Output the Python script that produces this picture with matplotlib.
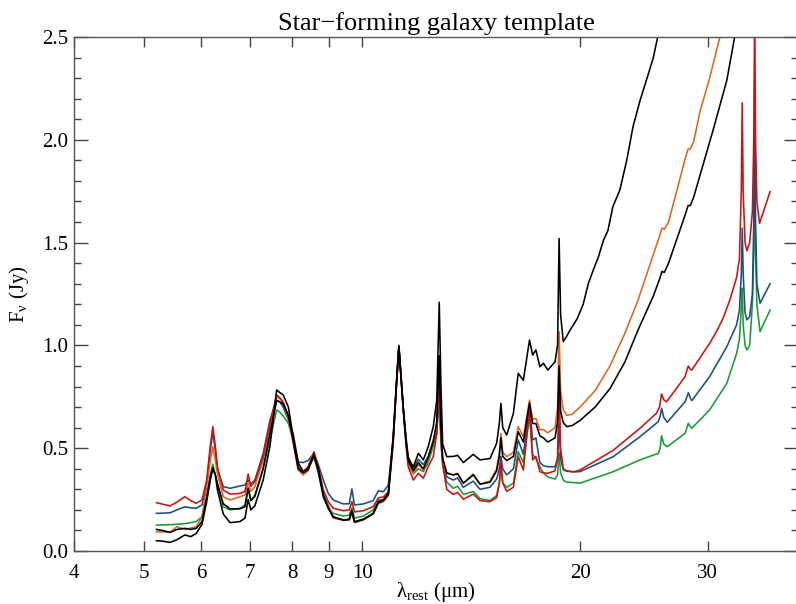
import numpy as np
import matplotlib
matplotlib.use("Agg")
import matplotlib.pyplot as plt
from matplotlib.ticker import FixedLocator, MultipleLocator, NullLocator

plt.rcParams['font.family'] = ['Liberation Serif', 'DejaVu Serif']
plt.rcParams['mathtext.default'] = 'regular'

# Common wavelength grid (micron) covering the PAH / fine-structure region
wave_pah = [5.20, 5.30, 5.43, 5.55, 5.69, 5.80, 5.90, 6.01, 6.10, 6.17,
            6.22, 6.27, 6.31, 6.43, 6.57, 6.78, 6.89, 6.96, 7.02, 7.11,
            7.30, 7.46, 7.62, 7.70, 7.78, 7.91, 8.03, 8.16, 8.29, 8.42,
            8.58, 8.70, 8.84, 8.98, 9.12, 9.42, 9.60, 9.68, 9.76, 10.04,
            10.36, 10.53, 10.70, 10.87, 11.04, 11.15, 11.24, 11.32, 11.40, 11.50,
            11.58, 11.77, 11.96, 12.15, 12.34, 12.54, 12.68, 12.78, 12.85, 12.92,
            13.09, 13.36, 13.55, 13.80, 14.24, 14.55, 15.02, 15.34, 15.47, 15.55,
            15.64, 15.84, 16.18, 16.43, 16.70, 17.03, 17.20, 17.38, 17.60, 17.80,
            18.05, 18.47, 18.62, 18.71, 18.80, 18.96, 19.17]

flux_red_pah = [0.235, 0.228, 0.219, 0.238, 0.264, 0.245, 0.232, 0.248, 0.345, 0.51,
                0.605, 0.51, 0.41, 0.297, 0.277, 0.28, 0.29, 0.375, 0.315, 0.337,
                0.459, 0.621, 0.759, 0.745, 0.726, 0.653, 0.54, 0.41, 0.386, 0.41,
                0.483, 0.41, 0.297, 0.24, 0.208, 0.196, 0.20, 0.24, 0.19, 0.196,
                0.216, 0.258, 0.263, 0.288, 0.54, 0.80, 0.995, 0.84, 0.69, 0.52,
                0.41, 0.345, 0.378, 0.354, 0.41, 0.459, 0.572, 0.85, 0.55, 0.42,
                0.30, 0.275, 0.285, 0.252, 0.277, 0.245, 0.24, 0.26, 0.33, 0.44,
                0.33, 0.29, 0.31, 0.459, 0.394, 0.686, 0.443, 0.46, 0.386, 0.38,
                0.378, 0.39, 0.45, 0.85, 0.50, 0.40, 0.39]

flux_blue_pah = [0.183, 0.184, 0.186, 0.20, 0.215, 0.21, 0.208, 0.224, 0.33, 0.49,
                 0.578, 0.49, 0.40, 0.313, 0.305, 0.316, 0.321, 0.345, 0.325, 0.345,
                 0.475, 0.637, 0.734, 0.725, 0.70, 0.637, 0.572, 0.434, 0.43, 0.44,
                 0.475, 0.42, 0.345, 0.28, 0.248, 0.229, 0.23, 0.302, 0.224, 0.229,
                 0.245, 0.293, 0.288, 0.321, 0.55, 0.80, 0.995, 0.84, 0.69, 0.55,
                 0.459, 0.40, 0.446, 0.42, 0.46, 0.54, 0.59, 0.80, 0.55, 0.45,
                 0.361, 0.345, 0.355, 0.31, 0.34, 0.30, 0.31, 0.35, 0.40, 0.46,
                 0.40, 0.37, 0.40, 0.54, 0.47, 0.70, 0.54, 0.55, 0.43, 0.415,
                 0.41, 0.41, 0.45, 0.62, 0.45, 0.395, 0.388]

flux_green_pah = [0.126, 0.127, 0.128, 0.13, 0.133, 0.138, 0.143, 0.167, 0.264, 0.37,
                  0.423, 0.37, 0.33, 0.215, 0.20, 0.208, 0.224, 0.305, 0.248, 0.272,
                  0.402, 0.54, 0.686, 0.675, 0.657, 0.62, 0.54, 0.402, 0.386, 0.40,
                  0.455, 0.38, 0.26, 0.208, 0.183, 0.17, 0.175, 0.21, 0.16, 0.17,
                  0.20, 0.248, 0.25, 0.28, 0.54, 0.80, 0.99, 0.84, 0.69, 0.52,
                  0.43, 0.375, 0.40, 0.386, 0.43, 0.51, 0.57, 0.76, 0.52, 0.42,
                  0.335, 0.305, 0.315, 0.275, 0.29, 0.255, 0.245, 0.27, 0.33, 0.40,
                  0.33, 0.31, 0.33, 0.483, 0.43, 0.66, 0.47, 0.45, 0.41, 0.38,
                  0.36, 0.35, 0.37, 0.476, 0.38, 0.345, 0.335]

flux_orange_pah = [0.094, 0.093, 0.092, 0.118, 0.105, 0.112, 0.118, 0.167, 0.313, 0.44,
                   0.507, 0.44, 0.378, 0.264, 0.248, 0.264, 0.272, 0.33, 0.29, 0.313,
                   0.443, 0.605, 0.75, 0.74, 0.72, 0.645, 0.525, 0.394, 0.37, 0.39,
                   0.47, 0.39, 0.28, 0.225, 0.16, 0.151, 0.151, 0.19, 0.138, 0.151,
                   0.18, 0.23, 0.24, 0.27, 0.52, 0.80, 0.99, 0.84, 0.69, 0.52,
                   0.42, 0.378, 0.42, 0.394, 0.45, 0.525, 0.62, 0.945, 0.60, 0.443,
                   0.378, 0.37, 0.378, 0.33, 0.375, 0.325, 0.34, 0.40, 0.48, 0.572,
                   0.48, 0.459, 0.48, 0.605, 0.555, 0.734, 0.64, 0.645, 0.59, 0.59,
                   0.575, 0.60, 0.70, 1.067, 0.78, 0.686, 0.66]

flux_black_pah = [0.05, 0.048, 0.042, 0.055, 0.078, 0.07, 0.085, 0.13, 0.24, 0.345,
                  0.40, 0.37, 0.30, 0.18, 0.138, 0.143, 0.16, 0.25, 0.20, 0.22,
                  0.345, 0.51, 0.783, 0.77, 0.76, 0.70, 0.556, 0.43, 0.386, 0.40,
                  0.47, 0.40, 0.27, 0.208, 0.167, 0.151, 0.155, 0.196, 0.143, 0.155,
                  0.183, 0.24, 0.248, 0.28, 0.56, 0.81, 1.0, 0.85, 0.69, 0.54,
                  0.45, 0.41, 0.475, 0.443, 0.507, 0.605, 0.734, 1.21, 0.80, 0.52,
                  0.459, 0.46, 0.465, 0.43, 0.47, 0.443, 0.45, 0.524, 0.62, 0.718,
                  0.60, 0.564, 0.67, 0.864, 0.83, 1.026, 0.953, 0.978, 0.896, 0.913,
                  0.88, 0.92, 1.0, 1.52, 1.15, 1.018, 1.045]

flux_black2_pah = [0.105, 0.10, 0.09, 0.105, 0.11, 0.105, 0.11, 0.143, 0.26, 0.36,
                   0.405, 0.37, 0.33, 0.23, 0.205, 0.205, 0.215, 0.305, 0.245, 0.265,
                   0.40, 0.572, 0.731, 0.725, 0.715, 0.66, 0.54, 0.40, 0.38, 0.395,
                   0.465, 0.39, 0.27, 0.21, 0.165, 0.15, 0.153, 0.19, 0.14, 0.153,
                   0.182, 0.235, 0.245, 0.275, 0.54, 0.80, 0.99, 0.84, 0.69, 0.53,
                   0.44, 0.39, 0.43, 0.40, 0.455, 0.53, 0.63, 0.95, 0.60, 0.45,
                   0.38, 0.37, 0.375, 0.33, 0.37, 0.325, 0.335, 0.39, 0.46, 0.55,
                   0.46, 0.44, 0.46, 0.58, 0.53, 0.72, 0.62, 0.62, 0.56, 0.55,
                   0.53, 0.55, 0.63, 0.90, 0.68, 0.625, 0.605]

# Long-wavelength continuum and lines, per template
wave_black_tail = [19.38, 19.82, 20.2, 20.53, 20.86, 21.2, 21.54, 21.86, 22.2, 22.7,
                   23.2, 23.67, 24.2, 24.85, 25.25, 25.6, 25.9]
flux_black_tail = [1.075, 1.13, 1.20, 1.30, 1.367, 1.43, 1.51, 1.56, 1.675, 1.756,
                   1.90, 2.064, 2.19, 2.32, 2.40, 2.50, 2.58]

wave_orange_tail = [19.5, 20.0, 20.98, 22.0, 23.07, 24.05, 25.8, 25.95, 26.15, 26.5,
                    28.0, 28.2, 28.4, 28.7, 29.3, 30.2, 31.2, 31.5]
flux_orange_tail = [0.665, 0.70, 0.78, 0.90, 1.06, 1.22, 1.54, 1.57, 1.565, 1.60,
                    1.92, 1.955, 1.955, 1.99, 2.14, 2.30, 2.50, 2.56]

wave_black2_tail = [19.5, 20.0, 20.98, 22.0, 23.07, 24.05, 25.25, 25.8, 25.95, 26.15,
                    26.5, 28.0, 28.2, 28.4, 28.7, 30.55, 31.9, 32.7, 33.0]
flux_black2_tail = [0.61, 0.635, 0.70, 0.79, 0.92, 1.075, 1.24, 1.33, 1.36, 1.355,
                    1.40, 1.645, 1.68, 1.68, 1.72, 2.05, 2.29, 2.50, 2.57]

wave_red_tail = [19.6, 20.0, 22.23, 24.2, 25.5, 25.75, 25.92, 26.1, 26.34, 27.93,
                 28.05, 28.22, 28.4, 28.53, 30.2, 30.9, 31.5, 32.2, 32.9, 33.2,
                 33.4, 33.5, 33.6, 33.8, 34.0, 34.3, 34.6, 34.75, 34.85, 34.95,
                 35.1, 35.4, 36.6]
flux_red_tail = [0.385, 0.394, 0.49, 0.597, 0.67, 0.70, 0.764, 0.735, 0.726, 0.848,
                 0.87, 0.90, 0.885, 0.88, 1.01, 1.07, 1.13, 1.22, 1.33, 1.42,
                 1.75, 2.18, 1.75, 1.50, 1.46, 1.50, 1.65, 2.0, 2.65, 2.0,
                 1.70, 1.594, 1.748]

wave_blue_tail = [19.6, 20.0, 22.23, 24.2, 25.65, 25.8, 25.92, 26.1, 26.39, 27.93,
                  28.1, 28.22, 28.4, 28.53, 30.2, 31.9, 32.9, 33.2, 33.4, 33.5,
                  33.6, 33.8, 34.0, 34.3, 34.6, 34.75, 34.85, 34.95, 35.1, 35.45,
                  36.6]
flux_blue_tail = [0.385, 0.386, 0.459, 0.556, 0.629, 0.655, 0.694, 0.65, 0.626, 0.726,
                  0.75, 0.77, 0.745, 0.731, 0.848, 0.994, 1.10, 1.17, 1.35, 1.57,
                  1.35, 1.16, 1.124, 1.14, 1.25, 1.60, 2.29, 1.60, 1.30, 1.205,
                  1.30]

wave_green_tail = [19.6, 20.0, 22.23, 24.2, 25.65, 25.8, 25.92, 26.1, 26.39, 27.93,
                   28.1, 28.22, 28.4, 28.53, 30.2, 31.9, 32.9, 33.2, 33.4, 33.5,
                   33.6, 33.8, 34.0, 34.3, 34.6, 34.75, 34.85, 34.95, 35.1, 35.45,
                   36.6]
flux_green_tail = [0.333, 0.33, 0.386, 0.443, 0.475, 0.50, 0.561, 0.52, 0.507, 0.572,
                   0.60, 0.621, 0.605, 0.597, 0.686, 0.816, 0.96, 1.03, 1.18, 1.278,
                   1.10, 1.00, 0.978, 1.0, 1.2, 1.45, 1.837, 1.45, 1.20, 1.067,
                   1.172]

xtick_values = [4, 5, 6, 7, 8, 9, 10, 20, 30]

# drawing order: first entry ends up at the bottom
templates = [
    ("#1a9a3a", flux_green_pah, wave_green_tail, flux_green_tail),
    ("#1d4e7c", flux_blue_pah, wave_blue_tail, flux_blue_tail),
    ("#e0661c", flux_orange_pah, wave_orange_tail, flux_orange_tail),
    ("#cc1111", flux_red_pah, wave_red_tail, flux_red_tail),
    ("black", flux_black2_pah, wave_black2_tail, flux_black2_tail),
    ("black", flux_black_pah, wave_black_tail, flux_black_tail),
]

fig = plt.figure(figsize=(7.96, 6.04), dpi=100)
ax = fig.add_axes([74 / 796, 53 / 604, 724 / 796, 514 / 604])

for color, f_pah, w_tail, f_tail in templates:
    w = np.concatenate([wave_pah, w_tail])
    f = np.concatenate([f_pah, f_tail])
    ax.plot(w, f, color=color, lw=1.15, solid_joinstyle='round')

ax.set_xscale('log')
ax.set_xlim(4, 40)
ax.set_ylim(0, 2.5)

ax.xaxis.set_major_locator(FixedLocator(xtick_values))
ax.xaxis.set_major_formatter(plt.FixedFormatter([str(v) for v in xtick_values]))
ax.xaxis.set_minor_locator(NullLocator())
ax.yaxis.set_major_locator(MultipleLocator(0.5))
ax.yaxis.set_minor_locator(MultipleLocator(0.1))
ax.yaxis.set_major_formatter(plt.FormatStrFormatter('%.1f'))

ax.tick_params(which='both', direction='in', top=True, right=True,
               color='#444444', labelsize=15, width=1)
ax.tick_params(axis='x', length=7.5, pad=9)
ax.tick_params(axis='y', which='major', length=10, pad=4)
ax.tick_params(axis='y', which='minor', length=5)
for sp in ax.spines.values():
    sp.set_color('#555555')
    sp.set_linewidth(1)

ax.set_title('Star\u2212forming galaxy template', fontsize=19, pad=5)
ax.set_xlabel(r'$\lambda_{rest}$ ($\mu$m)', fontsize=15, labelpad=-2)
ax.set_ylabel(r'F$_\nu$ (Jy)', fontsize=15, labelpad=8)

fig.savefig('out.png', dpi=100)
